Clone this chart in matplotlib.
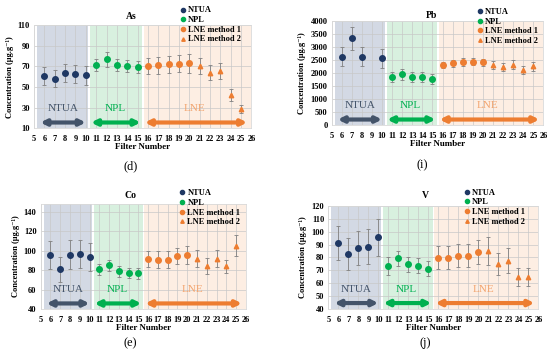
import matplotlib
matplotlib.use('Agg')
import matplotlib.pyplot as plt
from matplotlib.lines import Line2D

plt.rcParams['font.family'] = ['Liberation Serif', 'DejaVu Serif']

# filter numbers
x_ntua = [6, 7, 8, 9, 10]
x_ntua_pb = [6, 7, 8, 10]
x_npl = [11, 12, 13, 14, 15]
x_lne1 = [16, 17, 18, 19, 20]
x_lne2 = [21, 22, 23, 24, 25]

# As
as_ntua = [60.5, 58, 63.5, 62.8, 61.2]
as_ntua_err = [9, 8.5, 9, 9, 9]
as_npl = [71.2, 76.8, 71.5, 70.4, 69.4]
as_npl_err = [6, 7, 6, 5.5, 6]
as_lne1 = [70.5, 71, 72, 72.7, 73]
as_lne1_err = [8, 8, 8, 8.5, 9]
as_lne2 = [70.5, 63.8, 65.4, 42.2, 28.8]
as_lne2_err = [8, 7.5, 7.5, 5.5, 4]

# Pb
pb_ntua = [2625, 3330, 2625, 2560]
pb_ntua_err = [370, 440, 370, 360]
pb_npl = [1860, 1940, 1850, 1835, 1760]
pb_npl_err = [190, 215, 180, 185, 180]
pb_lne1 = [2300, 2370, 2410, 2425, 2400]
pb_lne1_err = [130, 140, 140, 140, 140]
pb_lne2 = [2310, 2210, 2310, 2110, 2250]
pb_lne2_err = [160, 150, 170, 170, 170]

# Co
co_ntua = [95.7, 80.8, 96, 96.7, 93.6]
co_ntua_err = [14.5, 12.5, 14.8, 14.6, 14]
co_npl = [80.8, 84.9, 79, 77.3, 77]
co_npl_err = [5.5, 5.5, 5.5, 5.5, 5.5]
co_lne1 = [91.5, 90.8, 90.8, 94.6, 95.7]
co_lne1_err = [8.5, 8.5, 8.5, 8.5, 9]
co_lne2 = [91.9, 84.3, 91.9, 83.9, 105.2]
co_lne2_err = [8.5, 8.2, 9, 7, 10.5]

# V
v_ntua = [91.2, 82.8, 87.5, 88.4, 95.6]
v_ntua_err = [13.6, 12.6, 13.4, 13.5, 14.2]
v_npl = [73.2, 79.3, 74.5, 73.5, 71.2]
v_npl_err = [6.9, 6, 6, 6, 6]
v_lne1 = [79.6, 79.8, 81.2, 81.2, 84.2]
v_lne1_err = [9, 9, 9, 9, 9.5]
v_lne2 = [84.8, 75, 77.5, 64.5, 64.8]
v_lne2_err = [11, 8.5, 10, 7, 7]

C_NTUA = '#1F3864'
C_NPL = '#00B050'
C_LNE = '#ED7D31'
C_ERR = '#808080'


def panel(rect, title, title_xy, leg_xy, label, label_xy, ylim, yticks,
          ntua, npl, lne1, lne2, xn=x_ntua):
    ax = fig.add_axes(rect)
    ax.set_xlim(5, 26)
    ax.set_ylim(*ylim)
    ax.set_xticks(range(5, 27))
    ax.set_yticks(yticks)
    # shaded regions
    ax.axvspan(5.3, 10.25, color='#D3D9E4', lw=0)
    ax.axvspan(10.45, 15.45, color='#D8F0DF', lw=0)
    ax.axvspan(15.6, 26, color='#FDEEE3', lw=0)
    ax.grid(True, color='#C8C8C8', lw=0.5)
    for s in ax.spines.values():
        s.set_color('#D9D9D9')
        s.set_linewidth(0.6)
    ax.tick_params(length=0, labelsize=6)
    ax.tick_params(axis='x', pad=5)
    ax.tick_params(axis='y', pad=3)
    for lab in ax.get_xticklabels() + ax.get_yticklabels():
        lab.set_fontweight('bold')
    ax.set_xlabel('Filter Number', fontsize=6.5, fontweight='bold', labelpad=0)
    ax.set_ylabel('Concentration (µg.g⁻¹)', fontsize=6, fontweight='bold', labelpad=3)

    ekw = dict(ls='none', ecolor=C_ERR, elinewidth=0.6, capsize=1.6, capthick=0.6, zorder=3)
    ax.errorbar(xn, ntua[0], yerr=ntua[1], marker='o', ms=4, color=C_NTUA, **ekw)
    ax.errorbar(x_npl, npl[0], yerr=npl[1], marker='o', ms=4, color=C_NPL, **ekw)
    ax.errorbar(x_lne1, lne1[0], yerr=lne1[1], marker='o', ms=4, color=C_LNE, **ekw)
    ax.errorbar(x_lne2, lne2[0], yerr=lne2[1], marker='^', ms=3.2, color=C_LNE, **ekw)

    # double arrows with group names
    tr = ax.get_xaxis_transform()
    for x0, x1, xt, col, tcol, name in [(5.6, 10.0, 7.8, '#44546A', '#44546A', 'NTUA'),
                                         (10.5, 15.3, 12.8, C_NPL, C_NPL, 'NPL'),
                                         (15.7, 25.6, 20.5, C_LNE, '#F2A46E', 'LNE')]:
        ax.annotate('', xy=(x0, 0.055), xytext=(x1, 0.055), xycoords=tr, textcoords=tr,
                    arrowprops=dict(arrowstyle='<|-|>', color=col, lw=3,
                                    mutation_scale=8, shrinkA=0, shrinkB=0))
        ax.text(xt, 0.19, name, transform=tr, ha='center', va='center',
                fontsize=8, color=tcol)

    fig.text(title_xy[0], title_xy[1], title, ha='center', va='center',
             fontsize=7, fontweight='bold')
    fig.text(label_xy[0], label_xy[1], label, ha='center', va='center', fontsize=9)

    handles = [Line2D([], [], ls='none', marker='o', ms=3, color=C_NTUA),
               Line2D([], [], ls='none', marker='o', ms=3, color=C_NPL),
               Line2D([], [], ls='none', marker='o', ms=3, color=C_LNE),
               Line2D([], [], ls='none', marker='^', ms=2.5, color=C_LNE)]
    fig.legend(handles, ['NTUA', 'NPL', 'LNE method 1', 'LNE method 2'],
               loc='upper left', bbox_to_anchor=leg_xy, frameon=False,
               prop=dict(size=6, weight='bold'), handlelength=0.6,
               handletextpad=0.3, labelspacing=0.2, borderpad=0, borderaxespad=0)
    return ax


fig = plt.figure(figsize=(5.5, 3.6), dpi=100)

panel([0.062, 0.644, 0.395, 0.286], 'As', (0.238, 0.953), (0.328, 0.982),
      '(d)', (0.238, 0.537), (10, 110), range(10, 111, 20),
      (as_ntua, as_ntua_err), (as_npl, as_npl_err), (as_lne1, as_lne1_err), (as_lne2, as_lne2_err))
panel([0.603, 0.652, 0.385, 0.291], 'Pb', (0.784, 0.956), (0.868, 0.978),
      '(i)', (0.767, 0.542), (0, 4000), range(0, 4001, 500),
      (pb_ntua, pb_ntua_err), (pb_npl, pb_npl_err), (pb_lne1, pb_lne1_err), (pb_lne2, pb_lne2_err),
      xn=x_ntua_pb)
panel([0.074, 0.141, 0.373, 0.2925], 'Co', (0.238, 0.456), (0.327, 0.474),
      '(e)', (0.236, 0.046), (40, 148), range(40, 141, 20),
      (co_ntua, co_ntua_err), (co_npl, co_npl_err), (co_lne1, co_lne1_err), (co_lne2, co_lne2_err))
panel([0.597, 0.1425, 0.382, 0.285], 'V', (0.774, 0.456), (0.845, 0.476),
      '(j)', (0.774, 0.046), (40, 120), range(40, 121, 10),
      (v_ntua, v_ntua_err), (v_npl, v_npl_err), (v_lne1, v_lne1_err), (v_lne2, v_lne2_err))

fig.savefig('out.png', dpi=100)
